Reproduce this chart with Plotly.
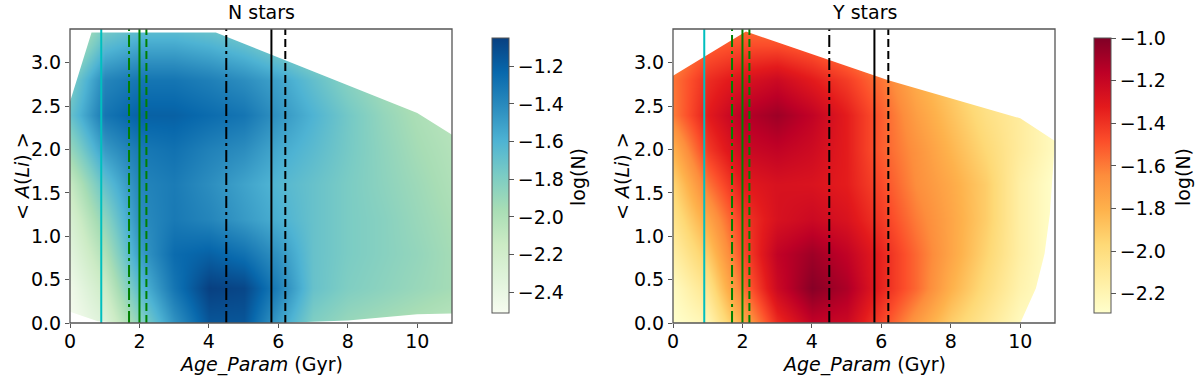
import plotly.graph_objects as go

# grid of the smoothed density (log N), rows follow ali_y, columns follow age_x
age_x = [0, 1, 2, 3, 4, 5, 6, 7, 8, 9, 10, 11]
ali_y = [0.0, 0.4, 0.8, 1.2, 1.6, 2.0, 2.4, 2.8, 3.2, 3.6]

logn_N = [
    [-2.50, -2.30, -1.85, -1.45, -1.15, -1.15, -1.50, -1.80, -1.90, -1.95, -2.00, -2.05],
    [-2.45, -2.15, -1.65, -1.30, -1.05, -1.08, -1.35, -1.70, -1.80, -1.85, -1.90, -1.95],
    [-2.35, -2.00, -1.50, -1.25, -1.20, -1.28, -1.45, -1.70, -1.78, -1.83, -1.88, -1.95],
    [-2.25, -1.85, -1.42, -1.32, -1.38, -1.48, -1.58, -1.70, -1.78, -1.83, -1.90, -1.97],
    [-2.12, -1.68, -1.38, -1.33, -1.42, -1.52, -1.62, -1.70, -1.78, -1.85, -1.92, -2.00],
    [-1.90, -1.48, -1.32, -1.28, -1.36, -1.42, -1.55, -1.65, -1.76, -1.86, -1.95, -2.02],
    [-1.70, -1.30, -1.20, -1.20, -1.25, -1.30, -1.45, -1.60, -1.75, -1.88, -1.98, -2.05],
    [-1.80, -1.38, -1.30, -1.30, -1.35, -1.42, -1.52, -1.68, -1.83, -1.95, -2.03, -2.10],
    [-2.05, -1.65, -1.55, -1.55, -1.60, -1.68, -1.80, -1.92, -2.02, -2.08, -2.13, -2.18],
    [-2.20, -1.90, -1.80, -1.80, -1.85, -1.90, -2.00, -2.10, -2.15, -2.20, -2.20, -2.25],
]

logn_Y = [
    [-2.29, -2.20, -1.78, -1.38, -1.18, -1.22, -1.45, -1.70, -1.92, -2.08, -2.24, -2.29],
    [-2.25, -2.05, -1.58, -1.22, -1.02, -1.12, -1.35, -1.55, -1.80, -2.00, -2.18, -2.29],
    [-2.15, -1.90, -1.48, -1.18, -1.08, -1.18, -1.35, -1.55, -1.75, -1.95, -2.15, -2.29],
    [-2.05, -1.75, -1.42, -1.27, -1.22, -1.28, -1.42, -1.60, -1.75, -1.92, -2.15, -2.29],
    [-1.95, -1.58, -1.32, -1.27, -1.28, -1.33, -1.47, -1.65, -1.77, -1.92, -2.15, -2.29],
    [-1.80, -1.42, -1.22, -1.18, -1.23, -1.33, -1.52, -1.67, -1.82, -1.97, -2.12, -2.25],
    [-1.60, -1.32, -1.15, -1.08, -1.18, -1.33, -1.52, -1.72, -1.87, -2.02, -2.12, -2.25],
    [-1.58, -1.38, -1.28, -1.22, -1.32, -1.43, -1.58, -1.78, -1.92, -2.07, -2.18, -2.25],
    [-1.68, -1.53, -1.48, -1.48, -1.53, -1.63, -1.73, -1.88, -1.98, -2.12, -2.20, -2.25],
    [-1.80, -1.70, -1.65, -1.65, -1.70, -1.80, -1.90, -2.00, -2.10, -2.20, -2.25, -2.29],
]

# outline of the region that holds data (convex hull)
hull_N_x = [0.0, 0.8, 1.5, 6.0, 8.0, 10.0, 11.0, 11.0, 10.0, 4.2, 0.62, 0.0]
hull_N_y = [0.13, 0.02, 0.0, 0.0, 0.03, 0.10, 0.11, 2.17, 2.42, 3.35, 3.35, 2.55]
hull_Y_x = [0.0, 10.0, 10.45, 10.7, 10.85, 11.0, 10.0, 6.2, 2.1, 0.0]
hull_Y_y = [0.0, 0.0, 0.4, 0.8, 1.25, 2.1, 2.36, 2.8, 3.36, 2.85]

# reference ages
vline_x = [0.9, 1.7, 2.0, 2.2, 4.5, 5.8, 6.2]
vline_col = ['#00bfbf', '#008000', '#008000', '#008000', 'black', 'black', 'black']
vline_dash = ['solid', '12px,4px,3px,4px', 'solid', '8px,4px', '12px,4px,3px,4px', 'solid', '8px,4px']

zrange_N = [-2.51, -1.05]
zrange_Y = [-2.29, -1.00]
x_max, y_max = 11, 3.39

GnBu = ['#f7fcf0', '#e0f3db', '#ccebc5', '#a8ddb5', '#7bccc4', '#4eb3d3', '#2b8cbe', '#0868ac', '#084081']
YlOrRd = ['#ffffcc', '#ffeda0', '#fed976', '#feb24c', '#fd8d3c', '#fc4e2a', '#e31a1c', '#bd0026', '#800026']


def scale(cols):
    n = len(cols) - 1
    return [[i / n, c] for i, c in enumerate(cols)]


FONT = 'DejaVu Sans'
fs = 19
spine = '#555555'
W, H = 1200, 383

fig = go.Figure()

panels = [
    dict(z=logn_N, zr=zrange_N, cs=GnBu, hx=hull_N_x, hy=hull_N_y, title='N stars',
         xd=[70 / W, 452 / W], cbx=492 / W, cbt=578, ylab=22),
    dict(z=logn_Y, zr=zrange_Y, cs=YlOrRd, hx=hull_Y_x, hy=hull_Y_y, title='Y stars',
         xd=[673 / W, 1055 / W], cbx=1094 / W, cbt=1183, ylab=622),
]
ydom = [60 / H, 354 / H]

shapes = []
annotations = []
for i, p in enumerate(panels):
    xa = 'x' if i == 0 else 'x2'
    ya = 'y' if i == 0 else 'y2'
    fig.add_trace(go.Heatmap(
        x=age_x, y=ali_y, z=p['z'], xaxis=xa, yaxis=ya,
        zmin=p['zr'][0], zmax=p['zr'][1], zsmooth='best',
        colorscale=scale(p['cs']),
        colorbar=dict(x=p['cbx'], xanchor='left', xpad=0, ypad=0,
                      y=(H - 175.5) / H, yanchor='middle',
                      len=275 / H, lenmode='fraction', thickness=17,
                      outlinewidth=1, outlinecolor=spine,
                      ticks='outside', ticklen=5, tickcolor=spine, tickformat='.1f',
                      dtick=0.2, tickfont=dict(family=FONT, size=fs, color='black')),
    ))
    # white mask outside the hull
    hull = ' '.join(f'L{x},{y}' for x, y in zip(p['hx'][1:], p['hy'][1:]))
    path = (f'M-0.2,-0.2 L11.2,-0.2 L11.2,3.6 L-0.2,3.6 Z '
            f'M{p["hx"][0]},{p["hy"][0]} {hull} Z')
    shapes.append(dict(type='path', path=path, xref=xa, yref=ya, fillcolor='white',
                       fillrule='evenodd', line=dict(width=0), layer='above'))
    for vx, vc, vd in zip(vline_x, vline_col, vline_dash):
        shapes.append(dict(type='line', xref=xa, yref=f'{ya} domain', x0=vx, x1=vx, y0=0, y1=1,
                           line=dict(color=vc, width=2, dash=vd), layer='above'))
    shapes.append(dict(type='rect', xref=f'{xa} domain', yref=f'{ya} domain', x0=0, x1=1, y0=0, y1=1,
                       line=dict(color=spine, width=1.3), layer='above'))
    cx = sum(p['xd']) / 2
    annotations += [
        dict(text=p['title'], x=cx, y=(H - 12) / H, xanchor='center', yanchor='middle'),
        dict(text='<i>Age_Param</i> (Gyr)', x=cx, y=(H - 364) / H, xanchor='center', yanchor='middle'),
        dict(text='&lt; <i>A</i>(<i>Li</i>) &gt;', x=p['ylab'] / W, y=(H - 176) / H,
             xanchor='center', yanchor='middle', textangle=-90),
        dict(text='log(N)', x=p['cbt'] / W, y=(H - 177) / H,
             xanchor='center', yanchor='middle', textangle=-90),
    ]

for a in annotations:
    a.update(xref='paper', yref='paper', showarrow=False,
             font=dict(family=FONT, size=fs, color='black'))

axis_common = dict(showgrid=False, zeroline=False, ticks='outside', ticklen=4, tickcolor=spine,
                   tickfont=dict(family=FONT, size=fs, color='black'), showline=False,
                   automargin=False)
x_common = dict(axis_common, range=[0, x_max], dtick=2, ticklabelstandoff=-3)
y_common = dict(axis_common, domain=ydom, range=[0, y_max], dtick=0.5, tickformat='.1f')

fig.update_layout(
    width=W, height=H, margin=dict(l=0, r=0, t=0, b=0, autoexpand=False),
    paper_bgcolor='white', plot_bgcolor='white',
    font=dict(family=FONT, size=fs, color='black'),
    shapes=shapes, annotations=annotations,
    xaxis=dict(x_common, domain=panels[0]['xd'], anchor='y'),
    yaxis=dict(y_common, anchor='x'),
    xaxis2=dict(x_common, domain=panels[1]['xd'], anchor='y2'),
    yaxis2=dict(y_common, anchor='x2'),
)

# the page body has a default 8px margin; drop it so the figure sits at the window corner
fig.write_html("out.html", config={'displayModeBar': False},
               post_script="document.body.style.margin='0';")
